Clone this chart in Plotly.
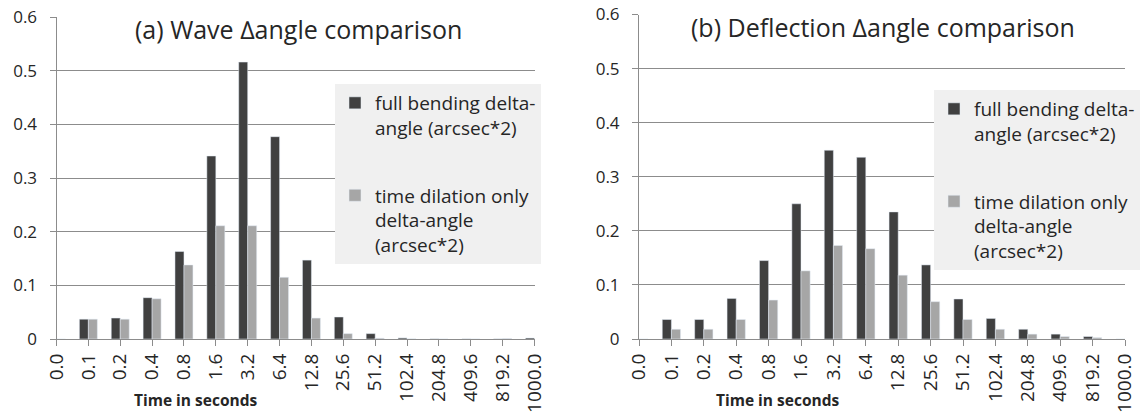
import plotly.graph_objects as go

# ---------------- data ----------------
CATEGORIES = ["0.0", "0.1", "0.2", "0.4", "0.8", "1.6", "3.2", "6.4", "12.8",
              "25.6", "51.2", "102.4", "204.8", "409.6", "819.2", "1000.0"]

WAVE_FULL = [0, 0.037, 0.039, 0.077, 0.163, 0.341, 0.516, 0.377, 0.147,
             0.041, 0.010, 0.002, 0.0003, 0.0002, 0.0002, 0.002]
WAVE_TIME = [0, 0.037, 0.037, 0.075, 0.138, 0.211, 0.211, 0.115, 0.039,
             0.010, 0.0015, 0.0003, 0.0001, 0.0001, 0.001, 0]

DEFL_FULL = [0, 0.036, 0.036, 0.075, 0.145, 0.250, 0.349, 0.336, 0.235,
             0.137, 0.074, 0.038, 0.018, 0.009, 0.0045, 0]
DEFL_TIME = [0, 0.018, 0.018, 0.036, 0.072, 0.126, 0.173, 0.167, 0.118,
             0.069, 0.036, 0.018, 0.009, 0.0045, 0.0025, 0]

NAME_FULL = "full bending delta-<br>angle (arcsec*2)"
NAME_TIME = "time dilation only<br>delta-angle<br>(arcsec*2)"
TITLE_A = "(a) Wave \u2206angle comparison"
TITLE_B = "(b) Deflection \u2206angle comparison"
X_TITLE = "Time in seconds"

# ---------------- style ----------------
W, H = 1140, 412
DARK = "#404040"
LIGHT = "#a6a6a6"
GRID = "#8c8c8c"
TXT = "#262626"
FONT = "Open Sans"


def fx(p):
    return p / W


def fy(p):
    return 1 - p / H


fig = go.Figure()

fig.add_trace(go.Bar(x=CATEGORIES, y=WAVE_FULL, name=NAME_FULL, marker_color=DARK,
                     xaxis="x", yaxis="y", legend="legend", legendgroup="a1"))
fig.add_trace(go.Bar(x=CATEGORIES, y=WAVE_TIME, name=NAME_TIME, marker_color=LIGHT,
                     xaxis="x", yaxis="y", legend="legend", legendgroup="a2"))
fig.add_trace(go.Bar(x=CATEGORIES, y=DEFL_FULL, name=NAME_FULL, marker_color=DARK,
                     xaxis="x2", yaxis="y2", legend="legend2", legendgroup="b1"))
fig.add_trace(go.Bar(x=CATEGORIES, y=DEFL_TIME, name=NAME_TIME, marker_color=LIGHT,
                     xaxis="x2", yaxis="y2", legend="legend2", legendgroup="b2"))

xcommon = dict(type="category", range=[0, 15], showgrid=False, showline=True,
               linecolor=GRID, linewidth=1, ticks="outside", ticklen=6,
               tickcolor=GRID, tickangle=-90, automargin=False,
               tickfont=dict(family=FONT, size=19, color=TXT),
               ticklabelstandoff=0, fixedrange=True)
ycommon = dict(range=[0, 0.6], dtick=0.1, showgrid=True, gridcolor=GRID,
               gridwidth=1, showline=True, linecolor=GRID, linewidth=1,
               ticks="outside", ticklen=6, tickcolor=GRID, zeroline=False,
               automargin=False,
               tickfont=dict(family=FONT, size=17, color=TXT),
               ticklabelstandoff=9, fixedrange=True)

legcommon = dict(bgcolor="#f0f0f0", font=dict(family=FONT, size=19, color=TXT),
                 traceorder="grouped", tracegroupgap=40, valign="top",
                 xanchor="left", yanchor="top", itemclick=False,
                 itemdoubleclick=False)

fig.update_layout(
    width=W, height=H,
    margin=dict(l=0, r=0, t=0, b=0, autoexpand=False),
    paper_bgcolor="white", plot_bgcolor="white",
    barmode="group", bargap=0.436, bargroupgap=0,
    font=dict(family=FONT, color=TXT),
    hovermode=False,
    xaxis=dict(domain=[fx(56.5), fx(534.5)], anchor="y", **xcommon),
    yaxis=dict(domain=[fy(339), fy(17)], anchor="x", **ycommon),
    xaxis2=dict(domain=[fx(639), fx(1125)], anchor="y2", **xcommon),
    yaxis2=dict(domain=[fy(339), fy(14.5)], anchor="x2", **ycommon),
    legend=dict(x=fx(335), y=fy(84), **legcommon),
    legend2=dict(x=fx(934), y=fy(90), **legcommon),
    annotations=[
        dict(text=TITLE_A, xref="paper", yref="paper", x=fx(298.5), y=fy(28.5),
             xanchor="center", yanchor="middle", showarrow=False,
             bgcolor="white", borderpad=4,
             font=dict(family=FONT, size=25, color=TXT)),
        dict(text=TITLE_B, xref="paper", yref="paper", x=fx(883), y=fy(27),
             xanchor="center", yanchor="middle", showarrow=False,
             bgcolor="white", borderpad=4,
             font=dict(family=FONT, size=25, color=TXT)),
        dict(text="<b>" + X_TITLE + "</b>", xref="paper", yref="paper",
             x=fx(195), y=fy(400), xanchor="center", yanchor="middle",
             showarrow=False, font=dict(family=FONT, size=15.5, color=TXT)),
        dict(text="<b>" + X_TITLE + "</b>", xref="paper", yref="paper",
             x=fx(777), y=fy(400), xanchor="center", yanchor="middle",
             showarrow=False, font=dict(family=FONT, size=15.5, color=TXT)),
    ],
)

fig.write_html(
    "out.html",
    config={"displayModeBar": False, "staticPlot": True},
    post_script="document.body.style.margin='0';document.body.style.overflow='hidden';",
)
